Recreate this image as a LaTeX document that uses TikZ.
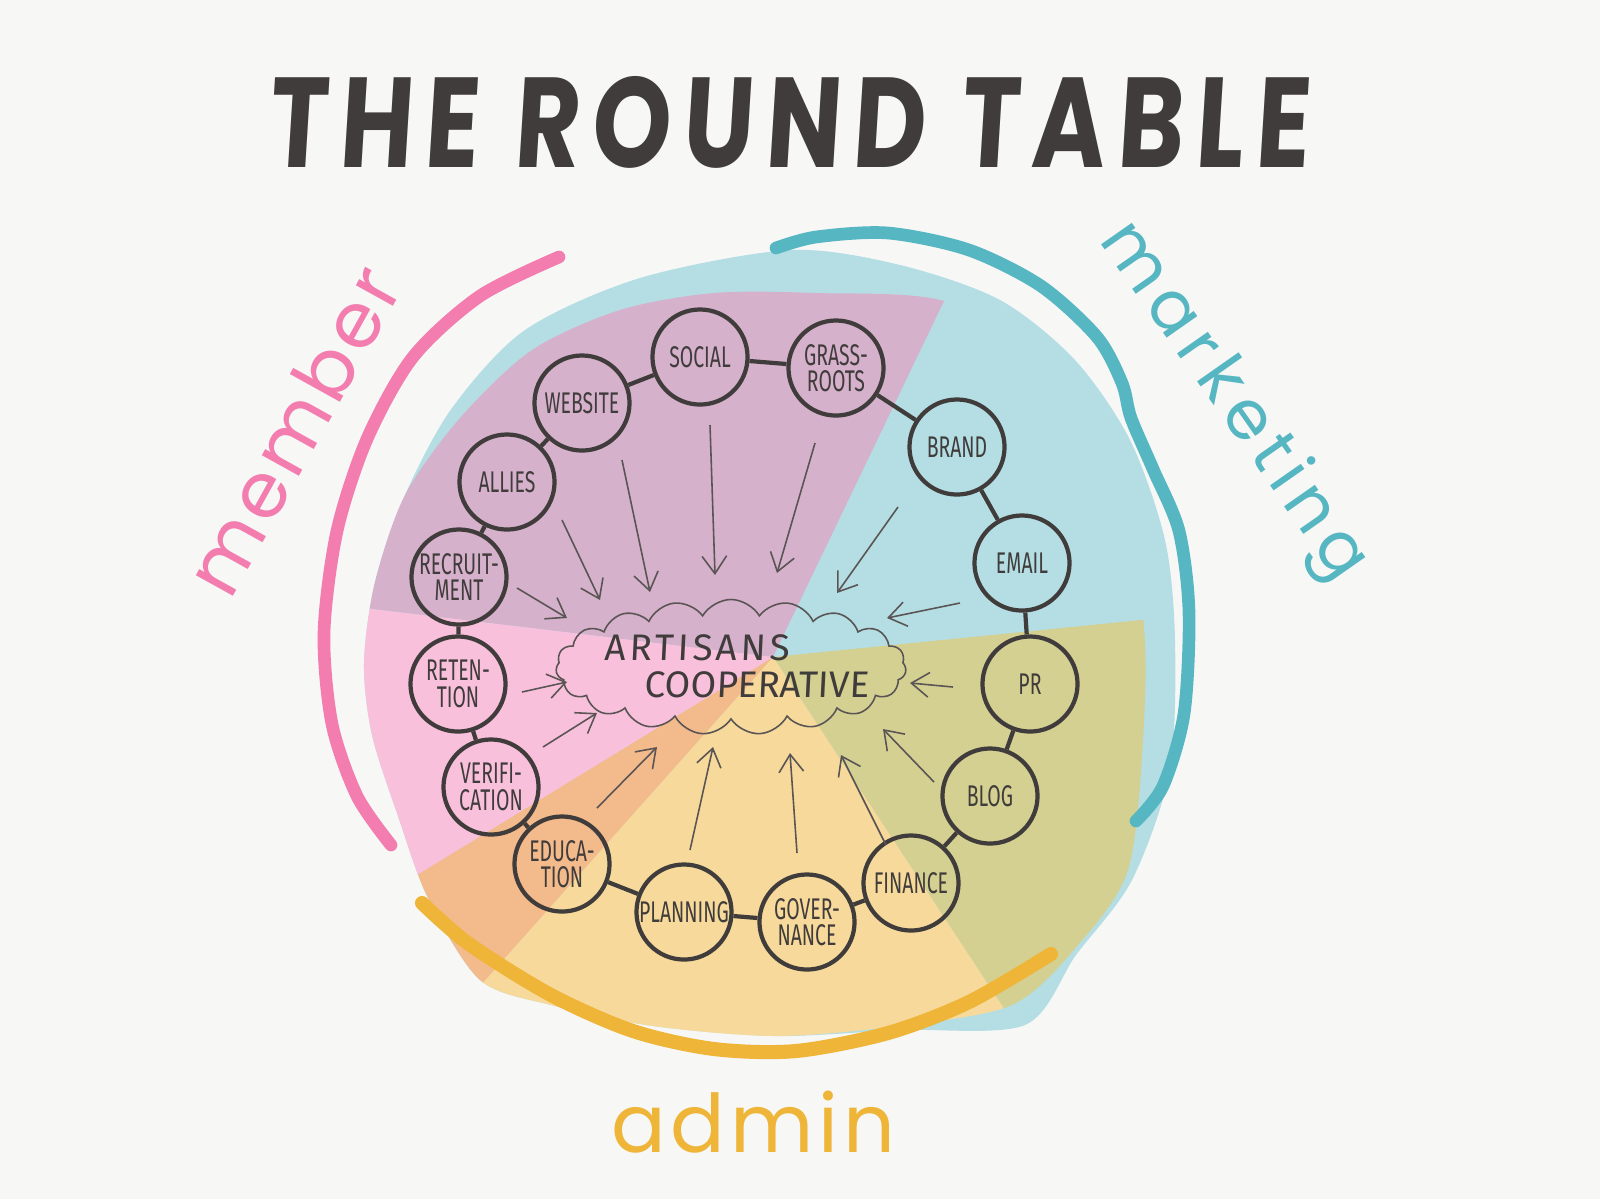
\documentclass[tikz,border=0pt]{standalone}
\usepackage{fontspec}
\usepackage{graphicx}
\usetikzlibrary{arrows.meta,shapes.symbols}

\newfontfamily\titlefont[FakeSlant=0.08, LetterSpace=12]{Poppins}
\newfontfamily\handfont[FakeStretch=0.65]{Fira Sans}
\newfontfamily\cloudfont[FakeSlant=0.05]{Fira Sans}
\newfontfamily\penfont[LetterSpace=6]{Poppins}

\definecolor{paper}{HTML}{F7F7F6}
\definecolor{ink}{HTML}{403C3B}
\definecolor{inkthin}{HTML}{5A5554}
\definecolor{slicepurple}{HTML}{D5B1CB}
\definecolor{sliceteal}{HTML}{B4DEE3}
\definecolor{slicepink}{HTML}{F9C0DC}
\definecolor{sliceolive}{HTML}{D4D092}
\definecolor{sliceyellow}{HTML}{F7DA9B}
\definecolor{sliceorange}{HTML}{F3BA8C}
\definecolor{penpink}{HTML}{F27DAE}
\definecolor{penteal}{HTML}{56B6C2}
\definecolor{penyellow}{HTML}{EEB538}

\tikzset{
  topic/.style={circle, draw=ink, line width=1.2pt, minimum size=0.95cm, inner sep=0pt,
    align=center, text=ink, font=\handfont\fontsize{8.5}{7.5}\selectfont},
  link/.style={draw=ink, line width=1.2pt},
  feed/.style={draw=inkthin, line width=0.45pt, -{Straight Barb[length=5pt,width=7pt]}},
  penline/.style={line width=3.6pt, line cap=round, line join=round},
}

\begin{document}
\begin{tikzpicture}[x=0.01cm, y=-0.01cm]
	\fill[paper] (0,0) rectangle (1600,1199);
	\useasboundingbox (0,0) rectangle (1600,1199);

	\node[text=ink] (title) at (788,122) {\resizebox{10.41cm}{0.91cm}{\titlefont\bfseries THE\hspace{0.35em}ROUND\hspace{0.35em}TABLE}};

	% slices
	\fill[sliceteal] plot[smooth cycle] coordinates {(364,663) (375,582) (405,495) (452,408) (525,330) (640,278) (790,250) (900,265) (1000,300) (1075,360) (1130,440) (1165,540) (1175,640) (1170,770) (1132,880) (1076,955) (1025,1025) (900,1030) (776,1036) (653,1026) (551,1005) (480,980) (428,898) (398,816) (372,735)};
	\begin{scope}
		\clip plot[smooth cycle] coordinates {(364,663) (375,582) (405,495) (460,418) (532,350) (620,310) (714,293) (816,293) (944,301) (1040,360) (1110,450) (1143,617) (1143,740) (1128,870) (1078,945) (1012,1005) (898,1026) (776,1036) (653,1026) (551,1005) (480,980) (428,898) (398,816) (372,735)};
		\fill[slicepurple] (773,657) -- (-13,563) -- (-13,-55) -- (1115,-55) -- cycle;
		\fill[sliceolive] (773,657) -- (1569,577) -- (1569,1333) -- (1217,1333) -- cycle;
		\fill[sliceyellow] (773,657) -- (1217,1333) -- (233,1263) -- cycle;
		\fill[sliceorange] (773,657) -- (233,1263) -- (67,1089) -- cycle;
		\fill[slicepink] (773,657) -- (67,1089) -- (-13,563) -- cycle;
	\end{scope}

	% marker strokes
	\draw[penline, penpink] plot[smooth] coordinates {(559,257) (480,296) (413,357) (367,439) (337,531) (324,633) (332,724) (357,796) (391,845)};
	\draw[penline, penteal] plot[smooth] coordinates {(776,248) (816,237) (888,233) (969,250) (1041,286) (1097,337) (1122,383) (1131,418) (1153,469) (1179,531) (1189,612) (1184,714) (1163,786) (1136,821)};
	\draw[penline, penyellow, line width=4pt] plot[smooth] coordinates {(422,903) (469,944) (551,995) (633,1031) (714,1049) (796,1051) (888,1033) (969,1002) (1051,954)};

	\node[rotate=61, text=penpink, font=\penfont\fontsize{22}{24}\selectfont] (member) at (293,430) {member};
	\node[rotate=-55, text=penteal, font=\penfont\fontsize{19.5}{22}\selectfont\addfontfeature{LetterSpace=12}] (marketing) at (1232,402) {marketing};
	\node[anchor=base, text=penyellow, font=\penfont\fontsize{23}{25}\selectfont] (admin) at (753,1152) {admin};

	% centre
	\node[cloud, draw=inkthin, line width=0.45pt, cloud puffs=19, cloud puff arc=120, aspect=2.6,
		minimum width=3.5cm, minimum height=1.35cm] (coop) at (731,667) {};
	\node[anchor=base, text=ink, font=\cloudfont\fontsize{10.5}{12}\selectfont\addfontfeature{LetterSpace=10}] (artisans) at (697,660) {ARTISANS};
	\node[anchor=base, text=ink, font=\cloudfont\fontsize{10.5}{12}\selectfont] (cooperative) at (757,697) {COOPERATIVE};

	% topics
	\node[topic] (social) at (700,357) {SOCIAL};
	\node[topic] (grassroots) at (836,368) {GRASS-\\ROOTS};
	\node[topic] (website) at (582,403) {WEBSITE};
	\node[topic] (allies) at (507,482) {ALLIES};
	\node[topic] (brand) at (957,447) {BRAND};
	\node[topic] (recruitment) at (459,577) {RECRUIT-\\MENT};
	\node[topic] (email) at (1022,563) {EMAIL};
	\node[topic] (retention) at (458,684) {RETEN-\\TION};
	\node[topic] (pr) at (1030,684) {PR};
	\node[topic] (verification) at (491,787) {VERIFI-\\CATION};
	\node[topic] (blog) at (990,796) {BLOG};
	\node[topic] (education) at (562,864) {EDUCA-\\TION};
	\node[topic] (finance) at (911,883) {FINANCE};
	\node[topic] (planning) at (684,912) {PLANNING};
	\node[topic] (governance) at (807,922) {GOVER-\\NANCE};

	\draw[link] (recruitment) -- (allies) -- (website) -- (social) -- (grassroots) -- (brand) -- (email) -- (pr)
		-- (blog) -- (finance) -- (governance) -- (planning) -- (education) -- (verification) -- (retention) -- (recruitment);

	% arrows into the cloud
	\foreach \i/\sx/\sy/\tx/\ty in {1/517/588/567/618, 2/562/520/600/600, 3/622/460/650/592, 4/710/425/715/575,
		5/815/443/777/573, 6/898/507/837/593, 7/960/603/887/618, 8/953/687/910/683, 9/934/782/883/729,
		10/886/845/841/755, 11/797/853/790/753, 12/690/850/713/747, 13/597/808/657/747, 14/543/747/597/713,
		15/522/692/567/682} {
		\coordinate (s\i) at (\sx,\sy);
		\coordinate (t\i) at (\tx,\ty);
		\draw[feed] (s\i) -- (t\i);
	}
\end{tikzpicture}
\end{document}
